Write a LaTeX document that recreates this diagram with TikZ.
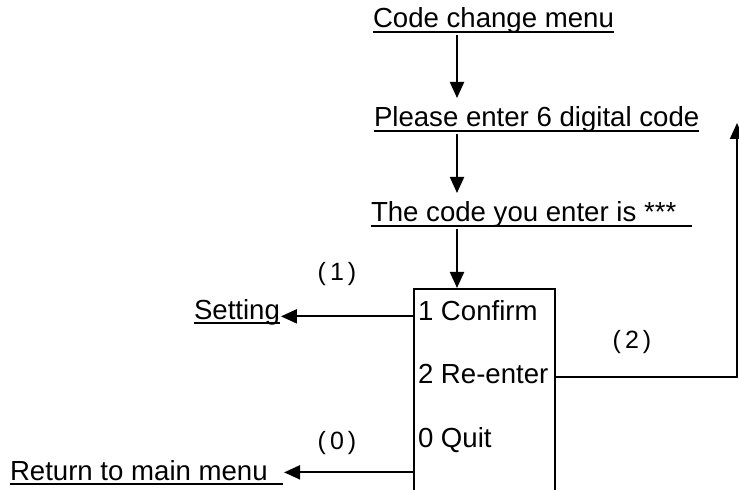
\documentclass[tikz,border=0pt]{standalone}
\usepackage{fontspec}
\setmainfont{Liberation Sans}
\usetikzlibrary{arrows.meta}
\newsavebox\ulbox
\newcommand\ultext[1]{\sbox\ulbox{#1}\rlap{\rule[-4.9bp]{\wd\ulbox}{2bp}}\usebox\ulbox}
\newcommand\wideparen[1]{(\kern4bp#1\kern4bp)}

\begin{document}
\begin{tikzpicture}[x=1bp, y=-1bp, line width=2bp, font=\fontsize{27.6bp}{33bp}\selectfont]
\useasboundingbox (0,0) rectangle (739,490);
\clip (0,0) rectangle (739,490);
\tikzset{every node/.style={inner sep=0pt, anchor=base west, text height=28bp, text depth=6bp}}
\node (code) at (372, 28) {\ultext{Code change menu}};
\node (enter) at (373, 127) {\ultext{Please enter 6 digital code}};
\node (shown) at (370, 222) {\ultext{The code you enter is ***\ \ }};
\node (setting) at (193, 319) {\ultext{Setting}};
\node (back) at (9, 480) {\ultext{Return to main menu\ \ }};

\node (confirm) at (417, 320) {1 Confirm};
\node (again) at (417, 383) {2 Re-enter};
\node (quit) at (417, 447) {0 Quit};

\tikzset{every node/.style={}}
\tikzset{caselabel/.style={font=\fontsize{25bp}{28bp}\selectfont}}
\node[caselabel] (one) at (337, 274) {\wideparen{1}};
\node[caselabel] (zero) at (337, 443) {\wideparen{0}};
\node[caselabel] (two) at (632, 342) {\wideparen{2}};

\node[draw, anchor=north west, minimum width=141bp, minimum height=240bp] (choice) at (413, 288) {};
\coordinate (spine) at (457, 0);
\coordinate (top) at (737, 123);

\tikzset{mystyle/.style={-{Triangle[length=16bp, width=14bp]}, line width=2bp}}
\path (code.south -| spine) edge [mystyle] (enter.north -| spine);
\path (enter.south -| spine) edge [mystyle] (shown.north -| spine);
\path (shown.south -| spine) edge [mystyle] (choice.north -| spine);
\path (setting.mid east -| choice.west) edge [mystyle] (setting.mid east);
\path ([yshift=5bp]back.mid east -| choice.west) edge [mystyle] ([yshift=5bp]back.mid east);
\draw [mystyle] ([yshift=3bp]again.mid east -| choice.east) -| (top);

\end{tikzpicture}
\end{document}
